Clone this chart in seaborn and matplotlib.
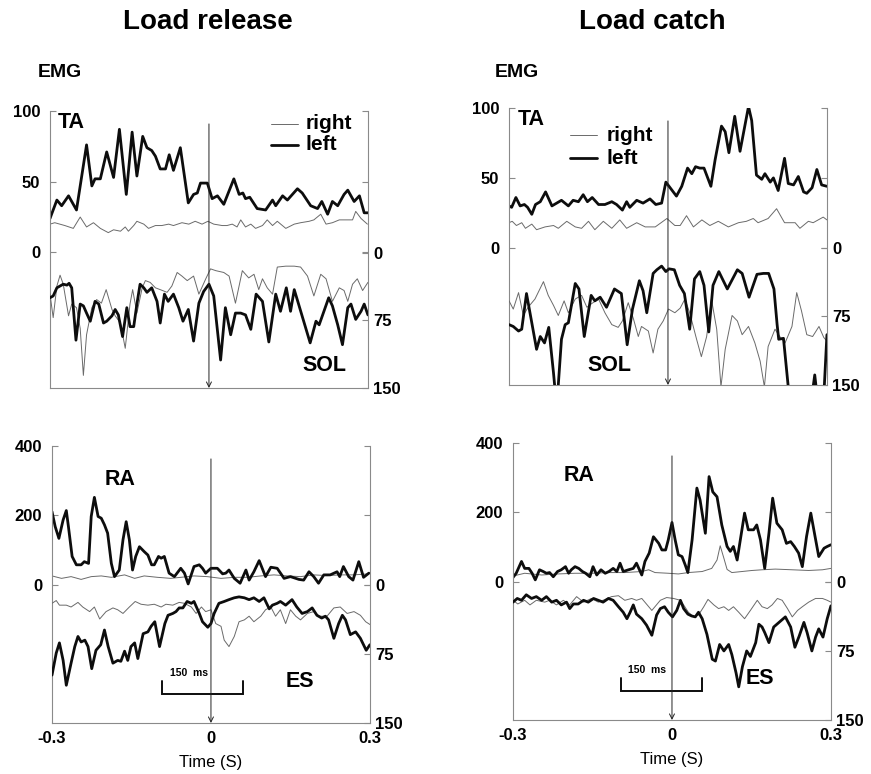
import numpy as np
import matplotlib
matplotlib.use("Agg")
import matplotlib.pyplot as plt
import seaborn as sns

# ---------------- data (time in ms, EMG amplitude) ----------------
# Load release, TA (left axis, 0-100)
rel_ta_left_t = [-300,-287,-278,-265,-250,-231,-221,-215,-205,-193,-180,-169,-156,-145,-136,-125,-117,-108,-101,-92,-82,-75,-67,-54,-39,-29,-22,-16,-3,6,16,28,47,57,64,69,77,91,107,120,126,139,148,167,176,192,205,213,224,233,243,255,262,274,284,293,300]
rel_ta_left_v = [24,37,33,40,30,76,47,52,52,71,53,87,41,85,54,82,74,72,68,59,59,69,58,74,35,41,42,49,49,38,40,34,52,41,42,38,39,31,30,37,33,40,37,45,42,33,31,36,27,36,33,41,44,36,40,28,28]
rel_ta_right_t = [-300,-291,-272,-256,-243,-231,-218,-205,-190,-180,-167,-158,-152,-142,-136,-123,-114,-101,-89,-76,-67,-51,-38,-26,-13,-2,9,25,34,44,53,60,69,79,88,101,110,120,129,145,161,173,189,198,211,221,233,246,258,271,277,287,299]
rel_ta_right_v = [20,21,19,17,25,18,21,17,14,16,15,18,15,19,22,20,17,19,19,20,19,21,20,22,20,22,20,19,19,20,18,23,18,20,17,19,23,19,22,17,20,21,22,23,27,20,21,23,23,23,29,24,20]
# Load release, SOL (right axis, inverted 0-150)
rel_sol_left_t = [-300,-294,-287,-281,-275,-268,-264,-259,-251,-243,-237,-231,-224,-215,-208,-199,-193,-183,-177,-171,-163,-155,-149,-142,-136,-130,-123,-117,-108,-98,-92,-84,-77,-67,-57,-49,-39,-29,-19,-10,0,9,22,31,41,50,60,69,79,89,101,113,126,135,146,154,161,191,202,208,217,226,233,243,252,262,268,277,287,293,300]
rel_sol_left_v = [50,48,39,37,35,36,34,39,97,57,59,67,76,54,57,78,76,70,63,69,93,61,82,82,57,35,39,44,39,54,78,46,54,46,61,76,63,98,56,43,35,48,119,61,91,67,67,69,85,46,54,99,46,65,39,65,41,100,76,80,65,50,59,80,102,61,57,74,65,57,69]
rel_sol_right_t = [-300,-294,-287,-281,-275,-265,-259,-250,-243,-237,-231,-221,-212,-203,-194,-183,-177,-167,-158,-149,-144,-136,-126,-120,-111,-101,-92,-79,-70,-60,-51,-41,-29,-19,-6,3,13,28,38,50,63,75,85,94,101,110,120,129,145,161,173,186,198,211,221,233,246,255,262,271,280,290,300]
rel_sol_right_v = [46,72,37,25,35,70,57,61,84,136,91,61,52,56,41,63,70,78,106,57,41,67,39,31,33,39,41,44,37,22,26,31,26,46,29,18,20,22,26,56,20,28,24,41,29,39,46,16,15,15,16,26,48,24,29,54,39,42,54,35,29,42,33]

# Load catch, TA
cat_ta_left_t = [-300,-295,-287,-279,-271,-265,-257,-250,-241,-231,-219,-210,-201,-188,-179,-169,-160,-152,-143,-131,-119,-106,-97,-86,-78,-72,-59,-47,-34,-23,-12,-4,4,16,26,37,45,52,60,68,73,81,89,101,108,115,126,136,152,158,167,177,183,193,199,208,220,227,237,246,256,262,272,281,290,300]
cat_ta_left_v = [30,29,36,30,31,29,24,31,33,40,30,32,34,30,34,33,38,33,36,31,31,33,31,27,33,29,34,32,35,31,32,47,43,37,44,57,53,58,57,57,52,44,63,87,83,68,94,69,101,91,52,49,53,47,50,41,64,46,45,51,40,39,43,56,45,44]
cat_ta_right_t = [-300,-294,-286,-276,-269,-257,-248,-232,-216,-207,-191,-175,-163,-150,-138,-122,-106,-91,-78,-59,-43,-24,-2,13,23,35,48,64,79,95,114,133,148,161,170,189,205,220,240,249,265,274,293,300]
cat_ta_right_v = [18,19,16,18,14,17,13,15,16,14,19,15,14,19,13,19,14,20,14,18,15,15,21,16,16,23,15,20,16,19,15,18,19,21,18,21,28,18,18,14,19,18,22,20]
# Load catch, SOL
cat_sol_left_t = [-300,-292,-282,-276,-267,-257,-248,-241,-233,-225,-216,-210,-201,-194,-188,-175,-168,-158,-145,-138,-128,-116,-101,-88,-77,-67,-54,-47,-40,-28,-21,-12,-4,2,12,22,31,41,50,60,68,77,85,96,112,131,140,153,168,180,190,200,206,209,218,227,233,271,277,284,293,300]
cat_sol_left_v = [84,86,91,89,50,82,111,97,104,87,137,175,100,84,82,39,45,97,52,58,54,65,45,50,106,67,36,47,71,28,24,20,26,23,24,41,50,89,34,26,41,92,41,26,45,24,28,54,29,28,28,45,84,100,99,152,175,165,139,175,175,95]
cat_sol_right_t = [-300,-292,-282,-273,-264,-251,-235,-226,-216,-207,-196,-188,-175,-163,-153,-144,-131,-119,-106,-94,-86,-75,-65,-56,-50,-37,-28,-19,-9,1,13,23,32,41,54,63,73,82,92,100,108,121,131,140,152,164,174,182,189,202,211,221,234,243,252,262,273,285,294,300]
cat_sol_right_v = [58,67,49,74,65,56,37,52,63,74,58,71,56,52,65,61,56,71,84,87,80,60,78,97,86,91,115,89,80,67,71,66,56,71,100,119,97,56,89,152,111,74,80,95,86,104,124,152,108,89,97,104,86,49,69,95,97,86,98,102]

# Load release, RA (left axis, 0-400)
rel_ra_left_t = [-300,-294,-287,-279,-273,-269,-262,-254,-245,-239,-231,-226,-220,-213,-207,-201,-195,-188,-182,-173,-166,-160,-154,-148,-142,-135,-126,-119,-112,-107,-99,-94,-88,-79,-69,-57,-50,-43,-32,-22,-16,-10,0,12,22,28,34,44,55,66,72,81,91,103,113,125,138,150,166,175,185,194,203,213,225,238,243,250,260,268,279,288,298]
rel_ra_left_v = [211,168,134,187,214,168,82,58,58,67,62,197,252,197,192,173,149,62,24,43,130,182,130,43,82,110,96,86,58,58,82,77,82,34,24,48,34,3,53,58,48,34,48,48,32,34,43,19,5,43,14,38,70,24,51,48,19,24,16,14,38,24,5,29,29,38,24,53,24,14,67,22,34]
rel_ra_right_t = [-300,-282,-264,-245,-226,-207,-188,-163,-144,-126,-101,-76,-57,-32,-7,19,44,69,94,119,144,169,194,219,244,269,298]
rel_ra_right_v = [26,19,24,16,24,26,22,29,19,26,22,19,22,26,24,19,22,22,26,29,26,24,29,27,29,29,32]
# Load release, ES (right axis, inverted 0-150)
rel_es_left_t = [-300,-292,-286,-279,-273,-264,-257,-251,-245,-238,-232,-225,-217,-208,-201,-194,-185,-176,-170,-163,-157,-151,-144,-138,-128,-119,-113,-106,-97,-87,-81,-72,-66,-60,-53,-45,-37,-32,-22,-16,-6,0,6,15,25,34,44,53,63,72,81,91,100,110,116,125,131,141,153,162,172,182,191,200,209,216,222,232,241,248,254,263,273,282,293,300]
rel_es_left_v = [98,74,63,82,109,85,67,56,62,60,67,91,71,65,49,67,85,82,83,72,82,67,63,80,53,51,45,40,67,42,33,31,29,25,25,18,20,18,31,40,46,42,31,20,18,16,14,13,14,16,14,18,14,26,22,20,18,22,16,24,31,29,25,33,36,34,38,58,42,33,38,54,51,58,71,65]
rel_es_right_t = [-300,-292,-286,-273,-264,-251,-242,-229,-220,-210,-198,-185,-176,-166,-154,-143,-132,-119,-107,-94,-85,-72,-60,-50,-37,-28,-18,-10,0,9,19,25,34,44,53,63,72,81,94,103,113,122,131,141,150,160,169,182,194,204,219,232,244,257,270,282,292,300]
rel_es_right_v = [20,17,22,22,24,19,24,29,24,37,29,25,27,31,24,18,21,22,21,24,21,22,19,20,24,31,24,29,27,42,45,60,67,56,40,38,34,40,34,27,24,34,27,42,27,34,38,31,29,34,34,25,24,31,29,33,40,43]

# Load catch, RA
cat_ra_left_t = [-300,-294,-284,-278,-270,-264,-258,-250,-243,-237,-231,-224,-216,-209,-201,-195,-190,-183,-176,-169,-163,-155,-149,-142,-134,-126,-119,-111,-104,-98,-92,-82,-73,-67,-57,-51,-43,-35,-25,-19,-12,-7,0,6,12,19,25,30,38,47,53,63,70,77,85,94,104,110,116,123,129,137,144,154,160,167,175,183,190,198,208,216,224,231,239,246,254,262,270,277,287,293,300]
cat_ra_left_v = [13,25,59,39,39,25,6,35,30,25,27,15,30,35,44,25,35,44,39,30,25,15,44,20,35,25,30,39,30,54,30,35,39,54,20,59,83,130,111,92,92,121,171,121,78,73,49,27,121,270,236,140,303,259,245,164,102,88,102,63,121,198,150,150,164,121,39,140,241,169,150,111,116,102,83,44,131,198,131,73,97,102,107]
cat_ra_right_t = [-300,-278,-246,-215,-183,-152,-120,-89,-57,-44,-32,-7,12,31,57,75,85,91,98,104,113,132,151,170,195,227,258,284,300]
cat_ra_right_v = [17,25,20,23,25,25,27,27,30,35,27,25,23,27,30,39,63,104,68,36,27,30,33,35,37,35,33,35,39]
# Load catch, ES
cat_es_left_t = [-300,-292,-284,-275,-265,-256,-246,-237,-227,-218,-209,-199,-193,-186,-177,-167,-158,-148,-139,-130,-120,-111,-101,-92,-85,-79,-73,-67,-57,-48,-38,-29,-22,-14,-7,1,9,16,22,30,37,44,50,57,66,76,82,90,98,107,113,121,126,133,141,148,158,164,170,175,183,192,202,214,224,232,240,249,255,264,271,277,285,293,300]
cat_es_left_v = [22,18,20,14,18,16,20,16,22,20,25,22,29,24,24,20,22,18,20,22,18,20,27,33,40,33,25,35,40,47,58,36,29,27,33,38,31,20,29,35,37,38,33,40,57,84,86,68,75,68,79,99,114,92,75,81,66,46,49,55,66,49,44,38,49,71,59,44,55,75,60,51,60,40,26]
cat_es_right_t = [-300,-291,-278,-268,-256,-240,-231,-218,-205,-193,-180,-167,-152,-139,-126,-114,-101,-89,-76,-67,-57,-38,-22,-10,3,16,22,31,41,50,60,68,79,88,98,107,116,126,137,148,161,170,180,189,199,208,218,227,237,246,258,271,284,293,300]
cat_es_right_v = [20,24,20,25,20,22,20,25,20,25,16,22,18,22,19,16,15,20,18,20,18,31,20,17,18,20,25,33,38,36,27,19,25,29,27,31,27,33,40,31,20,27,29,25,18,20,29,38,31,27,22,18,18,20,22]

x_ticks = [-0.3, -0.2, -0.1, 0.0, 0.1, 0.2, 0.3]
x_ticklabels = ["-0.3", "", "", "0", "", "", "0.3"]
top_left_ticks = [0, 50, 100]
bottom_left_ticks = [0, 200, 400]
right_ticks = [0, 75, 150]
titles = ["Load release", "Load catch"]

# ---------------- style ----------------
sns.set_style("white")
plt.rcParams["font.family"] = ["Liberation Sans", "DejaVu Sans"]
plt.rcParams["font.weight"] = "bold"
plt.rcParams["text.color"] = "black"
plt.rcParams["axes.labelcolor"] = "black"
plt.rcParams["xtick.labelcolor"] = "black"
plt.rcParams["ytick.labelcolor"] = "black"

THICK = dict(color="#0d0d0d", linewidth=2.0, solid_joinstyle="round", solid_capstyle="round")
THIN = dict(color="#6a6a6a", linewidth=0.7, solid_joinstyle="round")
SPINE = "#8a8a8a"

fig = plt.figure(figsize=(8.71, 7.74), dpi=100)

def trace(ax, t, v, style):
    sns.lineplot(x=np.asarray(t) / 1000.0, y=np.asarray(v, dtype=float), ax=ax,
                 estimator=None, sort=False, legend=False, **style)

def panel(rect, lticks, lylim, rylim, show_x):
    ax = fig.add_axes(rect)
    ax.set_xlim(-0.3, 0.3)
    ax.set_ylim(*lylim)
    ax2 = ax.twinx()
    ax2.set_ylim(*rylim)
    for a in (ax, ax2):
        for s in a.spines.values():
            s.set_color(SPINE)
            s.set_linewidth(0.8)
        a.spines["top"].set_visible(False)
    ax.spines["right"].set_visible(False)
    ax2.spines["left"].set_visible(False)
    ax2.spines["bottom"].set_visible(False)
    ax.set_yticks(lticks)
    ax.set_yticklabels([str(t) for t in lticks])
    ax.tick_params(axis="y", direction="in", length=4, width=0.8, color=SPINE,
                   labelcolor="black", labelsize=12, pad=7, right=True)
    ax2.set_yticks(right_ticks)
    ax2.set_yticklabels([str(t) for t in right_ticks])
    ax2.tick_params(axis="y", direction="in", length=4, width=0.8, color=SPINE,
                    labelcolor="black", labelsize=12, pad=4)
    ax.set_xticks(x_ticks)
    if show_x:
        ax.set_xticklabels(x_ticklabels)
    else:
        ax.set_xticklabels([""] * len(x_ticks))
    ax.tick_params(axis="x", direction="in", length=4, width=0.8, color=SPINE,
                   labelcolor="black", labelsize=12, pad=6)
    ax.grid(False)
    ax2.grid(False)
    # stimulus marker at t = 0
    ax2.annotate("", xy=(0, 0.0), xycoords=("data", "axes fraction"),
                 xytext=(0, 0.953), textcoords=("data", "axes fraction"),
                 arrowprops=dict(arrowstyle="->", color="#222222", lw=0.7,
                                 shrinkA=0, shrinkB=0, mutation_scale=9))
    return ax, ax2

W = 0.365
H = 0.358
LIMS = {
    "tl": ((-95.8, 100), (150, -157)),
    "tr": ((-97.9, 100), (150, -153)),
    "bl": ((-397, 400), (150, -151)),
    "br": ((-397, 400), (150, -151)),
}
panels = {
    "tl": panel([0.0574, 0.4987, W, H], top_left_ticks, *LIMS["tl"], False),
    "tr": panel([0.5844, 0.5026, W, H], top_left_ticks, *LIMS["tr"], False),
    "bl": panel([0.0597, 0.0659, W, H], bottom_left_ticks, *LIMS["bl"], True),
    "br": panel([0.5890, 0.0698, W, H], bottom_left_ticks, *LIMS["br"], True),
}

# traces
ax, ax2 = panels["tl"]
trace(ax, rel_ta_right_t, rel_ta_right_v, THIN)
trace(ax, rel_ta_left_t, rel_ta_left_v, THICK)
trace(ax2, rel_sol_right_t, rel_sol_right_v, THIN)
trace(ax2, rel_sol_left_t, rel_sol_left_v, THICK)
ax, ax2 = panels["tr"]
trace(ax, cat_ta_right_t, cat_ta_right_v, THIN)
trace(ax, cat_ta_left_t, cat_ta_left_v, THICK)
trace(ax2, cat_sol_right_t, cat_sol_right_v, THIN)
trace(ax2, cat_sol_left_t, cat_sol_left_v, THICK)
ax, ax2 = panels["bl"]
trace(ax, rel_ra_right_t, rel_ra_right_v, THIN)
trace(ax, rel_ra_left_t, rel_ra_left_v, THICK)
trace(ax2, rel_es_right_t, rel_es_right_v, THIN)
trace(ax2, rel_es_left_t, rel_es_left_v, THICK)
ax, ax2 = panels["br"]
trace(ax, cat_ra_right_t, cat_ra_right_v, THIN)
trace(ax, cat_ra_left_t, cat_ra_left_v, THICK)
trace(ax2, cat_es_right_t, cat_es_right_v, THIN)
trace(ax2, cat_es_left_t, cat_es_left_v, THICK)

for key, (ll, rl) in LIMS.items():
    a, b = panels[key]
    a.set_xlim(-0.3, 0.3)
    a.set_ylim(*ll)
    b.set_ylim(*rl)
    for c in (a, b):
        c.set_xlabel("")
        c.set_ylabel("")

# muscle labels
lab = dict(fontsize=15.5, fontweight="bold", va="center", ha="left", color="black")
panels["tl"][0].text(0.025, 0.957, "TA", transform=panels["tl"][0].transAxes, **lab)
panels["tl"][0].text(0.795, 0.083, "SOL", transform=panels["tl"][0].transAxes, **lab)
panels["tr"][0].text(0.028, 0.958, "TA", transform=panels["tr"][0].transAxes, **lab)
panels["tr"][0].text(0.248, 0.069, "SOL", transform=panels["tr"][0].transAxes, **lab)
panels["bl"][0].text(0.166, 0.879, "RA", transform=panels["bl"][0].transAxes, **lab)
panels["bl"][0].text(0.734, 0.148, "ES", transform=panels["bl"][0].transAxes, **lab)
panels["br"][0].text(0.158, 0.883, "RA", transform=panels["br"][0].transAxes, **lab)
panels["br"][0].text(0.732, 0.150, "ES", transform=panels["br"][0].transAxes, **lab)

# legends (right = thin, left = thick)
def legend(ax, x0, x1, xt, y_right, y_left):
    ax.plot([x0, x1], [y_right, y_right], transform=ax.transAxes, **THIN)
    ax.plot([x0, x1], [y_left, y_left], transform=ax.transAxes, color="#0d0d0d", linewidth=2.0)
    ax.text(xt, y_right, "right", transform=ax.transAxes, fontsize=15, fontweight="bold",
            va="center", ha="left", color="black")
    ax.text(xt, y_left, "left", transform=ax.transAxes, fontsize=15, fontweight="bold",
            va="center", ha="left", color="black")

legend(panels["tl"][0], 0.694, 0.779, 0.804, 0.953, 0.878)
legend(panels["tr"][0], 0.192, 0.277, 0.308, 0.902, 0.819)

# 150 ms scale bars
for key, xl, xr in (("bl", -0.092, 0.060), ("br", -0.097, 0.056)):
    a2 = panels[key][1]
    a2.plot([xl, xl, xr, xr], [104, 118, 118, 104], color="#0d0d0d", linewidth=1.4,
            solid_joinstyle="miter")
    a2.text(xl + 0.014, 101, "150  ms", fontsize=7.5, fontweight="bold", ha="left",
            va="bottom", color="black")

# x labels
for key in ("bl", "br"):
    panels[key][0].set_xlabel("Time (S)", fontsize=12, fontweight="normal", labelpad=6,
                              color="black")

# titles and EMG
fig.text(0.239, 0.9716, titles[0], fontsize=20, fontweight="bold", ha="center", va="center", color="black")
fig.text(0.749, 0.9716, titles[1], fontsize=20, fontweight="bold", ha="center", va="center", color="black")
fig.text(0.0436, 0.9057, "EMG", fontsize=14, fontweight="bold", ha="left", va="center", color="black")
fig.text(0.568, 0.9057, "EMG", fontsize=14, fontweight="bold", ha="left", va="center", color="black")

fig.savefig("out.png", dpi=100)
